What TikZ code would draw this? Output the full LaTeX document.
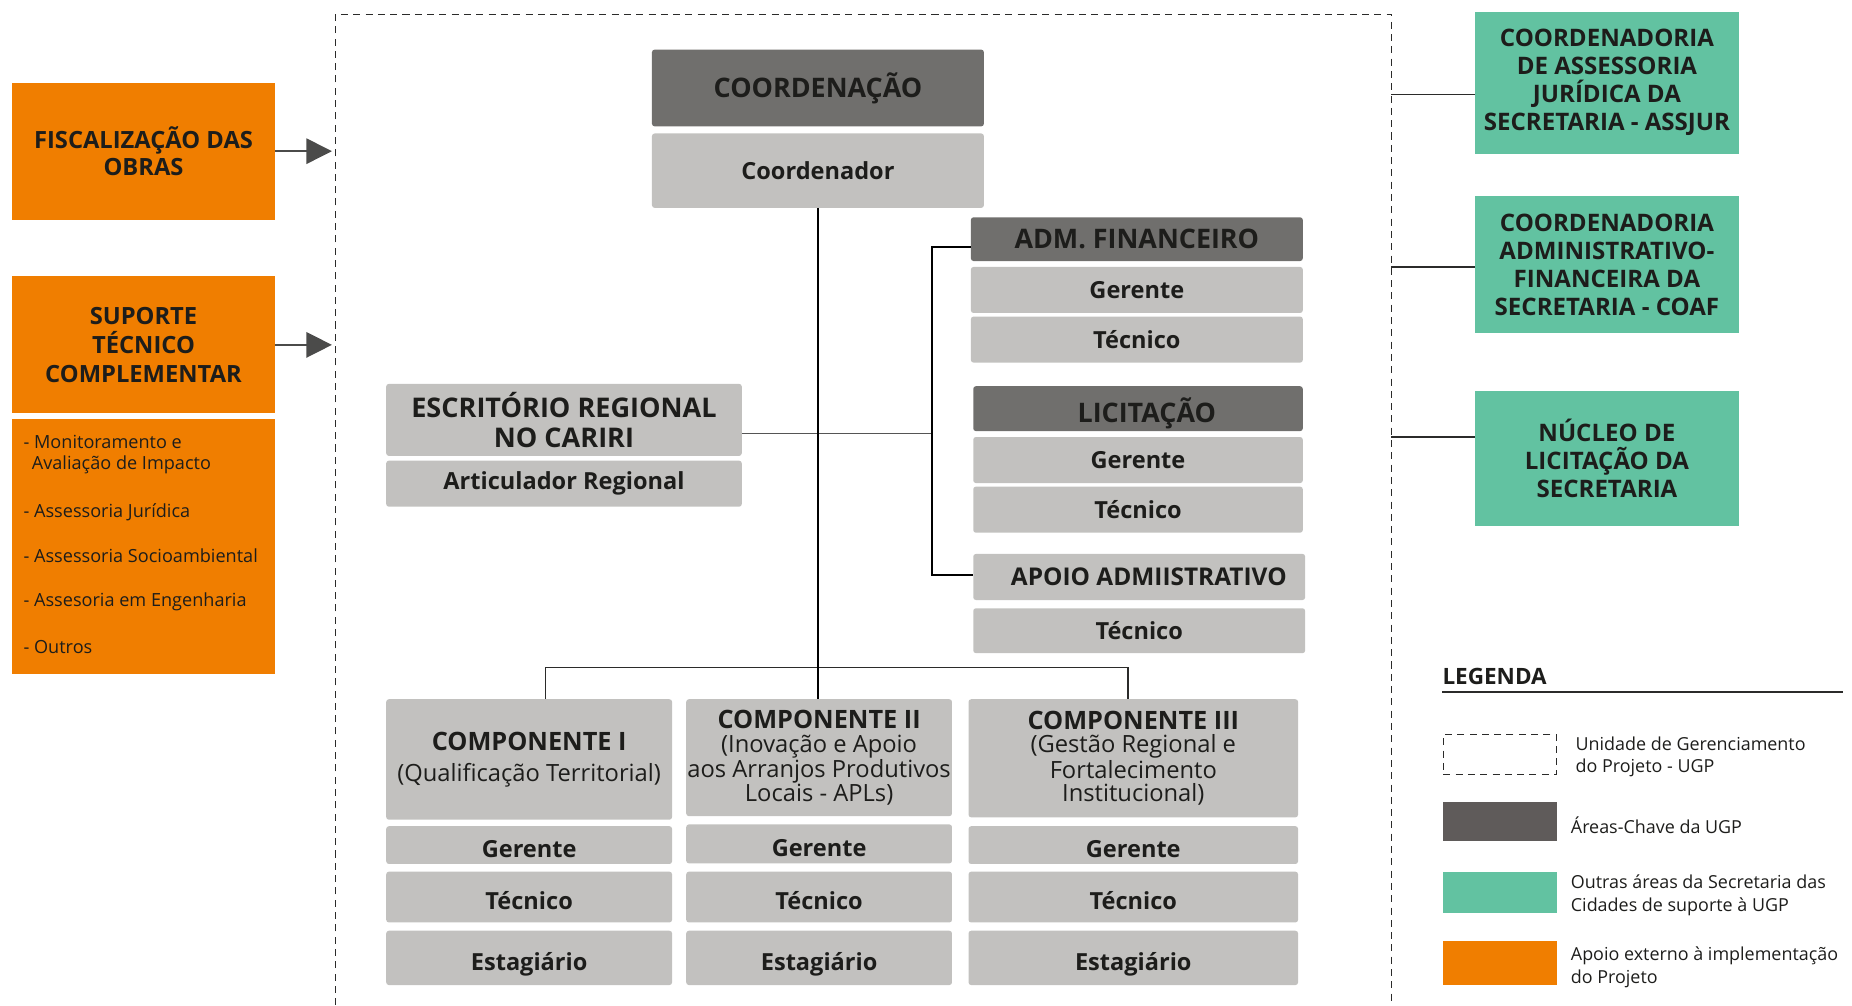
\documentclass[tikz,border=0pt]{standalone}
\usepackage{fontspec}
\setmainfont{Open Sans}
\usetikzlibrary{arrows.meta}

\definecolor{ink}{HTML}{1D1D1B}
\definecolor{keygray}{HTML}{706F6D}
\definecolor{rolegray}{HTML}{C2C1BF}
\definecolor{extorange}{HTML}{F07E00}
\definecolor{secgreen}{HTML}{62C2A1}
\definecolor{legdark}{HTML}{5F5B5A}
\definecolor{wire}{HTML}{2B2B2A}

\def\unitlen{0.023622cm}
\tikzset{
  % spot=x1/y1/x2/y2 : box spanning the two corners (picture units)
  spot/.style args={#1/#2/#3/#4}{
    minimum width={(#3-#1)*\unitlen}, minimum height={(#4-#2)*\unitlen},
    at={({(#1+#3)/2},{(#2+#4)/2})}},
  base/.style={inner sep=0pt, outer sep=0pt, text=ink, align=center},
  keybox/.style={base, fill=keygray, rounded corners=1.5pt,
    font=\bfseries\fontsize{15.3}{17}\selectfont},
  rolebox/.style={base, fill=rolegray, rounded corners=1.5pt,
    font=\bfseries\fontsize{13.4}{15}\selectfont},
  lowrole/.style={rolebox, text height=18pt, text depth=3.5pt},
  compbox/.style={base, fill=rolegray, rounded corners=1.5pt,
    font=\fontsize{13.5}{13.3}\selectfont},
  extbox/.style={base, fill=extorange, font=\bfseries\fontsize{13.5}{15}\selectfont},
  secbox/.style={base, fill=secgreen, font=\bfseries\fontsize{13.7}{15.9}\selectfont},
  listtext/.style={inner sep=0pt, outer sep=0pt, text=ink, anchor=base west,
    font=\fontsize{10.3}{12}\selectfont},
  legtext/.style={inner sep=0pt, outer sep=0pt, text=ink, anchor=west, align=left,
    font=\fontsize{10.2}{12.7}\selectfont},
  swatch/.style={inner sep=0pt, outer sep=0pt},
  ugpline/.style={draw=wire, line width=0.6pt, dash pattern=on 4pt off 3pt},
  trunk/.style={draw=black, line width=1.3pt},
  branch/.style={draw=wire, line width=0.8pt},
  thinlink/.style={draw=wire!80, line width=0.7pt},
  pointer/.style={draw=wire!85, line width=0.8pt,
    -{Triangle[length=14.5pt,width=14.5pt]}},
}

\begin{document}
\begin{tikzpicture}[x=\unitlen, y=-\unitlen]
\useasboundingbox (0,0) rectangle (1568,851);

% dashed frame of the project management unit (open at the bottom)
\draw[ugpline] (284,851) -- (284,12) -- (1178,12) -- (1178,851);
\coordinate (ugpL) at (281,0);

% external support (orange)
\node[extbox, spot=10/70/233/186] (fisc) {FISCALIZAÇÃO DAS\\OBRAS};
\node[extbox, spot=10/234/233/350, font=\bfseries\fontsize{13.5}{16.4}\selectfont] (sup) {SUPORTE\\TÉCNICO\\COMPLEMENTAR};
\node[base, fill=extorange, spot=10/355/233/571] (supl) {};
\node[listtext] (li1) at (20,379.5) {- Monitoramento e};
\node[listtext] (li1b) at (27,397.5) {Avaliação de Impacto};
\node[listtext] (li2) at (20,438.5) {- Assessoria Jurídica};
\node[listtext] (li3) at (20,476.5) {- Assessoria Socioambiental};
\node[listtext] (li4) at (20,513.5) {- Assesoria em Engenharia};
\node[listtext] (li5) at (20,553.5) {- Outros};

\draw[pointer] (fisc.east) -- (fisc.east -| ugpL);
\draw[pointer] (sup.east) -- (sup.east -| ugpL);

% coordination
\node[keybox, spot=552/42/833/107] (coord) {COORDENAÇÃO};
\node[rolebox, spot=552/113/833/176] (coordr) {Coordenador};

% administrative / financial
\node[keybox, spot=822/184/1103/221] (adm) {ADM. FINANCEIRO};
\node[rolebox, spot=822/226/1103/265] (admg) {Gerente};
\node[rolebox, spot=822/268/1103/307] (admt) {Técnico};

% procurement
\node[keybox, spot=824/327/1103/365, text height=19pt, text depth=3.8pt] (lic) {\hspace*{10pt}LICITAÇÃO};
\node[rolebox, spot=824/370/1103/409] (licg) {Gerente};
\node[rolebox, spot=824/412/1103/451] (lict) {Técnico};

% administrative support
\node[rolebox, spot=824/469/1105/508, font=\bfseries\fontsize{13.9}{15}\selectfont] (apoio) {\hspace*{11pt}APOIO ADMIISTRATIVO};
\node[rolebox, spot=824/515/1105/553] (apoiot) {Técnico};

% regional office
\node[rolebox, spot=327/325/628/386, font=\bfseries\fontsize{15.4}{17.4}\selectfont] (esc) {ESCRITÓRIO REGIONAL\\NO CARIRI};
\node[rolebox, spot=327/390/628/429] (art) {Articulador Regional};

% components
\node[compbox, spot=327/592/569/694] (c1) {{\bfseries\fontsize{14.4}{13.3}\selectfont COMPONENTE I}\\[4.5pt](Qualificação Territorial)};
\node[lowrole, spot=327/700/569/731] (c1g) {Gerente};
\node[lowrole, spot=327/738/569/781] (c1t) {Técnico};
\node[lowrole, spot=327/788/569/834] (c1e) {Estagiário};

\node[compbox, spot=581/592/806/691] (c2) {{\bfseries\fontsize{14.4}{13.3}\selectfont COMPONENTE II}\\(Inovação e Apoio\\aos Arranjos Produtivos\\Locais - APLs)};
\node[lowrole, spot=581/698/806/731] (c2g) {Gerente};
\node[lowrole, spot=581/738/806/781] (c2t) {Técnico};
\node[lowrole, spot=581/788/806/834] (c2e) {Estagiário};

\node[compbox, spot=820/592/1099/692] (c3) {{\bfseries\fontsize{14.4}{13.3}\selectfont COMPONENTE III}\\(Gestão Regional e\\Fortalecimento\\Institucional)};
\node[lowrole, spot=820/700/1099/731] (c3g) {Gerente};
\node[lowrole, spot=820/738/1099/781] (c3t) {Técnico};
\node[lowrole, spot=820/788/1099/834] (c3e) {Estagiário};

% connectors inside the unit
\coordinate (ej) at (789,367);
\draw[thinlink] (ej -| esc.east) -- (ej);
\coordinate (bt) at (789,209);
\coordinate (bb) at (789,487);
\draw[branch, line width=1.1pt, draw=black] (bt -| adm.west) -- (bt) -- (bb) -- (bb -| apoio.west);
\coordinate (b1) at (462,565);
\coordinate (b3) at (955,565);
\draw[branch] (b1 |- c1.north) -- (b1) -- (b3) -- (b3 |- c3.north);
\draw[trunk] (coordr.south) -- (coordr.south |- c2.north);

% other areas of the secretariat (green)
\node[secbox, spot=1249/10/1472/130] (g1) {COORDENADORIA\\DE ASSESSORIA\\JURÍDICA DA\\SECRETARIA - ASSJUR};
\node[secbox, spot=1249/166/1472/282] (g2) {COORDENADORIA\\ADMINISTRATIVO-\\FINANCEIRA DA\\SECRETARIA - COAF};
\node[secbox, spot=1249/331/1472/445] (g3) {NÚCLEO DE\\LICITAÇÃO DA\\SECRETARIA};
\coordinate (s1) at (1178,80);
\coordinate (s2) at (1178,226);
\coordinate (s3) at (1178,370);
\draw[branch] (s1) -- (s1 -| g1.west);
\draw[branch] (s2) -- (s2 -| g2.west);
\draw[branch] (s3) -- (s3 -| g3.west);

% legend
\node[inner sep=0pt, anchor=west, text=ink, font=\bfseries\fontsize{12.8}{14}\selectfont] (legt) at (1221,573) {LEGENDA};
\coordinate (lu) at (1560,586);
\draw[wire, line width=0.8pt] (lu -| legt.west) -- (lu);
\node[swatch, draw=wire, line width=0.6pt, dash pattern=on 4pt off 3pt, spot=1222/622/1318/656] (sw1) {};
\node[swatch, fill=legdark, spot=1222/679/1318/712] (sw2) {};
\node[swatch, fill=secgreen, spot=1222/738/1318/773] (sw3) {};
\node[swatch, fill=extorange, spot=1222/797/1318/834] (sw4) {};
\node[legtext] (lt1) at (1334,640.5) {Unidade de Gerenciamento\\do Projeto - UGP};
\node[legtext] (lt2) at (1330,699) {Áreas-Chave da UGP};
\node[legtext] (lt3) at (1330,758) {Outras áreas da Secretaria das\\Cidades de suporte à UGP};
\node[legtext] (lt4) at (1330,819) {Apoio externo à implementação\\do Projeto};
\end{tikzpicture}
\end{document}
